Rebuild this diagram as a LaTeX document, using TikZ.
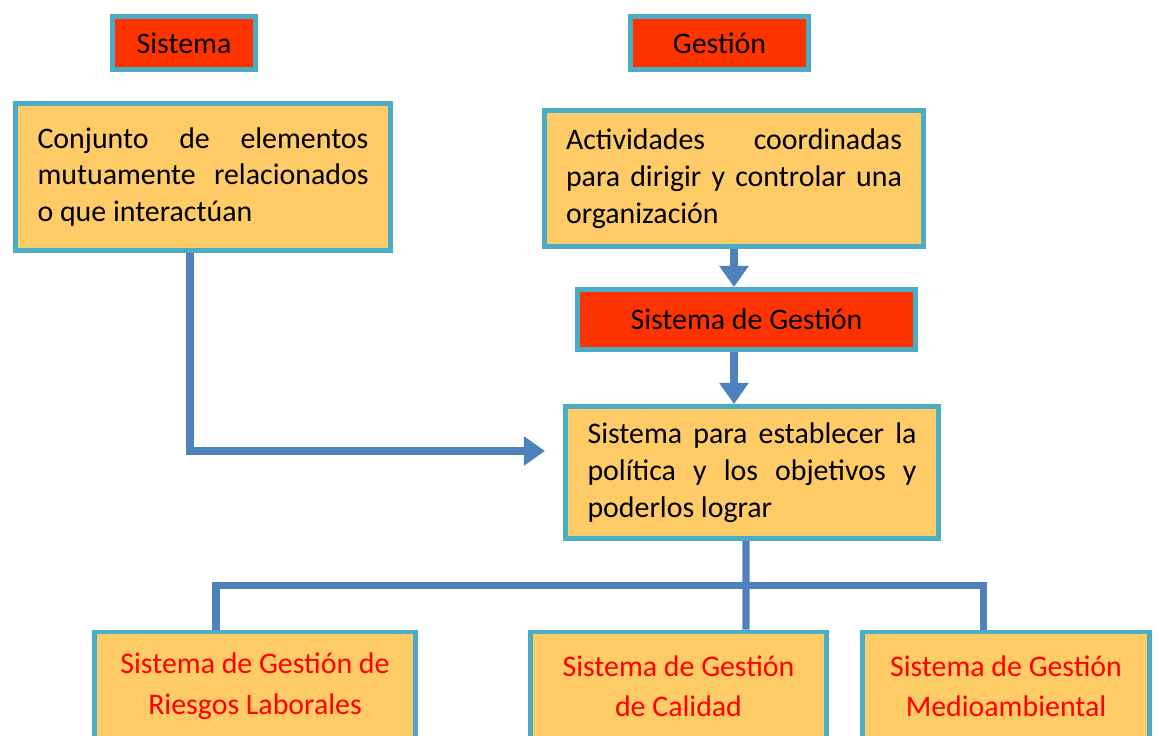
\documentclass[tikz,border=0pt]{standalone}
\usepackage{fontspec}
\setmainfont{Carlito}
\usetikzlibrary{arrows.meta,calc}
\definecolor{rojo}{HTML}{FF3300}
\definecolor{naranja}{HTML}{FFCB66}
\definecolor{borde}{HTML}{4BACC6}
\definecolor{azul}{HTML}{4F81BD}
\tikzstyle{titulo} = [draw=borde,fill=rojo,line width=2.8pt,inner sep=0pt,font=\fontsize{17}{21}\selectfont]
\tikzstyle{caja} = [draw=borde,fill=naranja,line width=2.8pt,inner sep=0pt,align=justify,font=\fontsize{17}{21}\selectfont]
\tikzstyle{cajaroja} = [draw=borde,fill=naranja,line width=2.8pt,inner sep=0pt,align=center,text=red,font=\fontsize{17}{23}\selectfont]
\tikzstyle{flecha} = [-{Triangle[width=16pt,length=12pt]},draw=azul,line width=4pt]
\tikzstyle{linea} = [draw=azul,line width=4pt]

\begin{document}
\begin{tikzpicture}[x=0.02cm,y=-0.02cm]
	\useasboundingbox (0,0) rectangle (1159,736);

	\node[titulo,minimum width=2.86cm,minimum height=1.06cm] (sistema) at (184,43) {Sistema};
	\node[titulo,minimum width=3.56cm,minimum height=1.06cm] (gestion) at (719.5,43) {Gestión};

	\node[caja,minimum width=7.5cm,minimum height=2.94cm,text width=6.62cm] (conjunto) at (203,177)
		{Conjunto de elementos mutuamente relacionados o que interactúan};
	\node[caja,minimum width=7.58cm,minimum height=2.72cm,text width=6.72cm] (actividades) at (734,178.5)
		{Actividades coordinadas para dirigir y controlar una organización};

	\node[titulo,minimum width=6.76cm,minimum height=1.2cm] (sisgestion) at (746.5,319.5) {Sistema de Gestión};

	\node[caja,minimum width=7.46cm,minimum height=2.64cm,text width=6.58cm] (sispara) at (752,472.5)
		{Sistema para establecer la política y los objetivos y poderlos lograr};

	\node[cajaroja,minimum width=6.42cm,minimum height=2.16cm] (sgrl) at (255,686) {Sistema de Gestión de\\Riesgos Laborales};
	\node[cajaroja,minimum width=5.92cm,minimum height=2.16cm] (sgcal) at (678.5,686) {Sistema de Gestión\\de Calidad};
	\node[cajaroja,minimum width=5.74cm,minimum height=2.16cm] (sgma) at (1006,686) {Sistema de Gestión\\Medioambiental};

	% flechas
	\coordinate (llegada) at (545,451);
	\draw[flecha] ($(conjunto.south)+(-13,0)$) |- (llegada);
	\draw[flecha] (actividades.south) -- (actividades.south |- sisgestion.north);
	\draw[flecha] (sisgestion.south -| actividades.south) -- (sispara.north -| actividades.south);

	% arbol
	\draw[linea] ($(sispara.south)+(-6,0)$) -- ($(sgcal.north)+(67.5,0)$);
	\draw[linea] ($(sgrl.north)+(-39,0)$) |- ($(sgma.north)+(-23,-44)$) -- ($(sgma.north)+(-23,0)$);

\end{tikzpicture}
\end{document}
